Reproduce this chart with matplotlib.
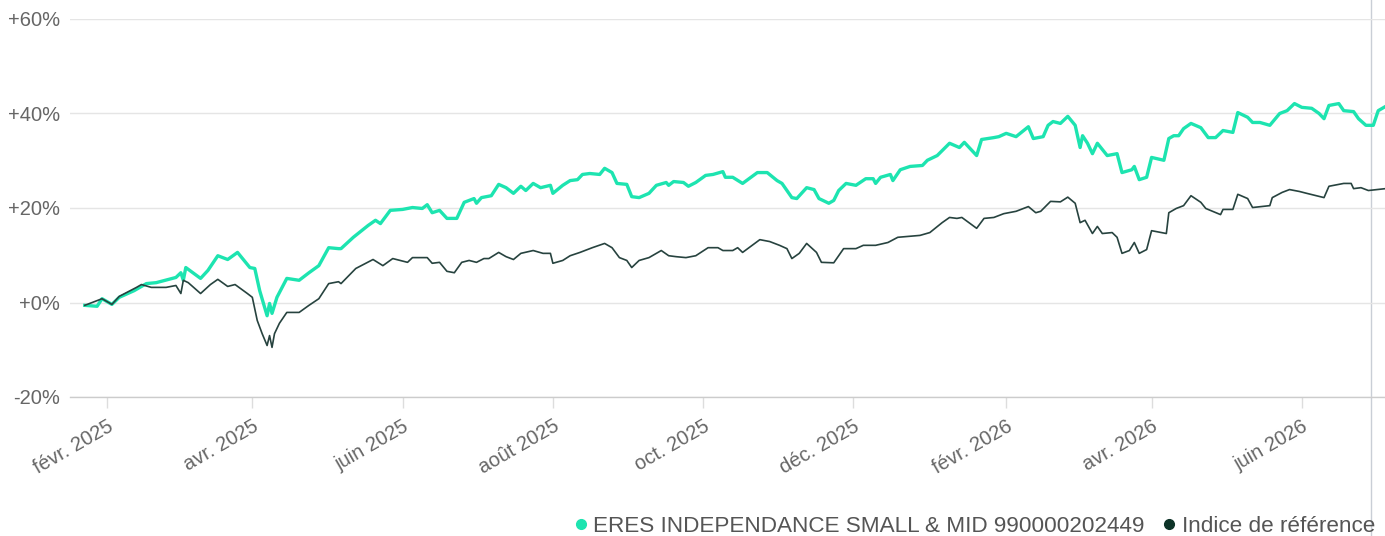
import matplotlib
matplotlib.use("Agg")
import matplotlib.pyplot as plt
import matplotlib.dates as mdates
from matplotlib.lines import Line2D
from matplotlib.transforms import blended_transform_factory
import pandas as pd

# ---------------- data ----------------
fund_dates = [
    "2025-01-23", "2025-01-28", "2025-01-30", "2025-02-03", "2025-02-06", "2025-02-12",
    "2025-02-17", "2025-02-21", "2025-02-26", "2025-03-01", "2025-03-03", "2025-03-04",
    "2025-03-05", "2025-03-11", "2025-03-14", "2025-03-18", "2025-03-22", "2025-03-26",
    "2025-03-31", "2025-04-02", "2025-04-04", "2025-04-07", "2025-04-08", "2025-04-09",
    "2025-04-11", "2025-04-15", "2025-04-20", "2025-04-24", "2025-04-28", "2025-05-02",
    "2025-05-06", "2025-05-07", "2025-05-12", "2025-05-18", "2025-05-21", "2025-05-23",
    "2025-05-27", "2025-06-01", "2025-06-05", "2025-06-09", "2025-06-11", "2025-06-13",
    "2025-06-16", "2025-06-19", "2025-06-23", "2025-06-26", "2025-06-30", "2025-07-01",
    "2025-07-03", "2025-07-07", "2025-07-10", "2025-07-13", "2025-07-16", "2025-07-19",
    "2025-07-21", "2025-07-24", "2025-07-27", "2025-07-31", "2025-08-01", "2025-08-05",
    "2025-08-08", "2025-08-11", "2025-08-13", "2025-08-16", "2025-08-20", "2025-08-22",
    "2025-08-25", "2025-08-27", "2025-08-31", "2025-09-02", "2025-09-05", "2025-09-09",
    "2025-09-12", "2025-09-16", "2025-09-17", "2025-09-19", "2025-09-23", "2025-09-25",
    "2025-09-28", "2025-10-02", "2025-10-05", "2025-10-09", "2025-10-10", "2025-10-13",
    "2025-10-17", "2025-10-23", "2025-10-27", "2025-10-31", "2025-11-02", "2025-11-06",
    "2025-11-08", "2025-11-12", "2025-11-15", "2025-11-17", "2025-11-21", "2025-11-23",
    "2025-11-25", "2025-11-28", "2025-12-02", "2025-12-06", "2025-12-09", "2025-12-10",
    "2025-12-12", "2025-12-16", "2025-12-17", "2025-12-20", "2025-12-24", "2025-12-29",
    "2025-12-31", "2026-01-04", "2026-01-09", "2026-01-13", "2026-01-15", "2026-01-20",
    "2026-01-22", "2026-01-27", "2026-01-29", "2026-02-01", "2026-02-05", "2026-02-10",
    "2026-02-12", "2026-02-16", "2026-02-18", "2026-02-20", "2026-02-23", "2026-02-26",
    "2026-03-01", "2026-03-03", "2026-03-04", "2026-03-06", "2026-03-08", "2026-03-10",
    "2026-03-14", "2026-03-18", "2026-03-20", "2026-03-24", "2026-03-25", "2026-03-27",
    "2026-03-30", "2026-04-01", "2026-04-06", "2026-04-08", "2026-04-10", "2026-04-12",
    "2026-04-14", "2026-04-17", "2026-04-21", "2026-04-24", "2026-04-27", "2026-04-30",
    "2026-05-04", "2026-05-06", "2026-05-10", "2026-05-12", "2026-05-15", "2026-05-19",
    "2026-05-23", "2026-05-26", "2026-05-29", "2026-06-01", "2026-06-05", "2026-06-08",
    "2026-06-10", "2026-06-12", "2026-06-16", "2026-06-18", "2026-06-22", "2026-06-24",
    "2026-06-27", "2026-06-30", "2026-07-02", "2026-07-05",
]
fund_values = [
    -0.6, -0.8, 0.8, -0.4, 1.1, 2.5,
    4.0, 4.2, 4.9, 5.3, 6.3, 4.7,
    7.4, 5.1, 6.8, 9.9, 9.1, 10.6,
    7.4, 7.2, 2.5, -2.8, -0.2, -2.3,
    1.1, 5.1, 4.7, 6.3, 7.8, 11.6,
    11.4, 11.4, 13.8, 16.3, 17.4, 16.7,
    19.5, 19.7, 20.1, 19.9, 20.7, 19.0,
    19.5, 17.8, 17.8, 21.2, 22.0, 21.0,
    22.2, 22.6, 25.0, 24.3, 23.1, 24.6,
    23.7, 25.2, 24.3, 24.8, 23.1, 24.8,
    25.8, 26.0, 27.1, 27.3, 27.1, 28.4,
    27.5, 25.2, 25.0, 22.4, 22.2, 23.1,
    24.8, 25.4, 24.8, 25.6, 25.4, 24.6,
    25.4, 26.9, 27.1, 27.7, 26.5, 26.5,
    25.2, 27.5, 27.5, 25.8, 25.2, 22.2,
    22.0, 24.3, 23.9, 22.0, 21.0, 21.6,
    23.7, 25.2, 24.8, 26.2, 26.2, 25.2,
    26.5, 27.1, 25.8, 28.1, 28.8, 29.0,
    30.1, 31.1, 33.7, 32.8, 33.9, 31.1,
    34.5, 34.9, 35.1, 35.8, 35.1, 37.2,
    34.7, 35.1, 37.5, 38.3, 37.9, 39.4,
    37.5, 32.8, 35.3, 33.7, 31.5, 33.7,
    31.1, 31.5, 27.5, 28.1, 28.8, 26.0,
    26.5, 30.7, 30.1, 34.7, 35.3, 35.3,
    36.8, 37.9, 37.0, 34.9, 34.9, 36.4,
    36.0, 40.2, 39.2, 38.1, 38.1, 37.5,
    40.0, 40.6, 42.1, 41.3, 41.1, 40.0,
    38.9, 41.7, 42.1, 40.6, 40.4, 38.9,
    37.5, 37.5, 40.6, 41.5,
]

index_dates = [
    "2025-01-23", "2025-01-30", "2025-02-03", "2025-02-06", "2025-02-13", "2025-02-15",
    "2025-02-19", "2025-02-25", "2025-03-01", "2025-03-03", "2025-03-04", "2025-03-06",
    "2025-03-11", "2025-03-15", "2025-03-18", "2025-03-22", "2025-03-25", "2025-03-30",
    "2025-04-01", "2025-04-03", "2025-04-05", "2025-04-07", "2025-04-08", "2025-04-09",
    "2025-04-10", "2025-04-12", "2025-04-15", "2025-04-20", "2025-04-24", "2025-04-28",
    "2025-05-02", "2025-05-06", "2025-05-07", "2025-05-13", "2025-05-20", "2025-05-24",
    "2025-05-28", "2025-06-03", "2025-06-05", "2025-06-11", "2025-06-13", "2025-06-16",
    "2025-06-19", "2025-06-22", "2025-06-25", "2025-06-28", "2025-07-01", "2025-07-04",
    "2025-07-06", "2025-07-10", "2025-07-13", "2025-07-16", "2025-07-19", "2025-07-24",
    "2025-07-28", "2025-07-31", "2025-08-01", "2025-08-05", "2025-08-08", "2025-08-12",
    "2025-08-17", "2025-08-22", "2025-08-25", "2025-08-28", "2025-08-31", "2025-09-02",
    "2025-09-05", "2025-09-09", "2025-09-14", "2025-09-17", "2025-09-20", "2025-09-24",
    "2025-09-28", "2025-10-03", "2025-10-07", "2025-10-09", "2025-10-13", "2025-10-15",
    "2025-10-17", "2025-10-24", "2025-10-28", "2025-11-01", "2025-11-04", "2025-11-06",
    "2025-11-09", "2025-11-12", "2025-11-16", "2025-11-18", "2025-11-23", "2025-11-27",
    "2025-12-02", "2025-12-05", "2025-12-10", "2025-12-15", "2025-12-19", "2025-12-28",
    "2026-01-01", "2026-01-06", "2026-01-09", "2026-01-12", "2026-01-14", "2026-01-20",
    "2026-01-23", "2026-01-27", "2026-01-31", "2026-02-05", "2026-02-10", "2026-02-13",
    "2026-02-15", "2026-02-19", "2026-02-23", "2026-02-26", "2026-03-01", "2026-03-03",
    "2026-03-05", "2026-03-08", "2026-03-10", "2026-03-12", "2026-03-16", "2026-03-18",
    "2026-03-20", "2026-03-23", "2026-03-25", "2026-03-27", "2026-03-30", "2026-04-01",
    "2026-04-07", "2026-04-08", "2026-04-11", "2026-04-14", "2026-04-17", "2026-04-21",
    "2026-04-23", "2026-04-29", "2026-04-30", "2026-05-04", "2026-05-06", "2026-05-10",
    "2026-05-12", "2026-05-19", "2026-05-20", "2026-05-24", "2026-05-27", "2026-05-31",
    "2026-06-03", "2026-06-10", "2026-06-12", "2026-06-18", "2026-06-21", "2026-06-22",
    "2026-06-25", "2026-06-28", "2026-07-05",
]
index_values = [
    -0.6, 0.8, -0.4, 1.3, 3.2, 3.8,
    3.2, 3.2, 3.6, 1.9, 4.7, 4.2,
    1.9, 3.8, 4.9, 3.4, 3.8, 1.9,
    1.1, -3.8, -6.6, -9.1, -7.0, -9.5,
    -6.6, -4.4, -2.1, -2.1, -0.6, 0.8,
    4.0, 4.4, 4.0, 7.2, 9.1, 7.8,
    9.3, 8.5, 9.5, 9.5, 8.3, 8.5,
    6.6, 6.3, 8.5, 8.9, 8.5, 9.3,
    9.3, 10.6, 9.7, 9.1, 10.4, 11.0,
    10.4, 10.4, 8.3, 8.9, 9.9, 10.6,
    11.6, 12.5, 11.6, 9.5, 8.9, 7.4,
    8.9, 9.5, 11.0, 9.9, 9.7, 9.5,
    9.9, 11.6, 11.6, 11.0, 11.0, 11.6,
    10.6, 13.3, 12.9, 12.1, 11.4, 9.3,
    10.4, 12.5, 10.6, 8.5, 8.4, 11.4,
    11.4, 12.1, 12.1, 12.7, 13.8, 14.2,
    14.8, 16.9, 18.0, 17.8, 18.0, 15.7,
    17.8, 18.0, 18.8, 19.3, 20.3, 19.0,
    19.3, 21.4, 21.3, 22.3, 21.0, 16.9,
    17.4, 14.6, 16.1, 14.6, 14.8, 13.8,
    10.4, 11.0, 12.7, 10.4, 11.2, 15.2,
    14.6, 19.0, 19.9, 20.5, 22.6, 21.2,
    19.9, 18.6, 19.7, 19.7, 22.9, 22.0,
    20.1, 20.5, 22.2, 23.3, 23.9, 23.5,
    23.1, 22.2, 24.6, 25.2, 25.2, 24.1,
    24.3, 23.7, 24.1,
]

y_ticks = [-20, 0, 20, 40, 60]
y_tick_labels = ["-20%", "+0%", "+20%", "+40%", "+60%"]
x_tick_dates = ["2025-02-01", "2025-04-01", "2025-06-01", "2025-08-01", "2025-10-01",
                "2025-12-01", "2026-02-01", "2026-04-01", "2026-06-01"]
x_tick_labels = ["févr. 2025", "avr. 2025", "juin 2025", "août 2025", "oct. 2025",
                 "déc. 2025", "févr. 2026", "avr. 2026", "juin 2026"]
fund_label = "ERES INDEPENDANCE SMALL & MID 990000202449"
index_label = "Indice de référence"
cursor_date = "2026-06-29"

# ---------------- styling ----------------
plt.rcParams["font.family"] = ["Liberation Sans", "DejaVu Sans"]
GREEN = "#1de4b0"
DARK = "#27433f"
TXT = "#666666"
GRID = "#e5e5e5"

W, H = 1385, 536
fig = plt.figure(figsize=(W / 100, H / 100), dpi=100)
ax = fig.add_axes([70 / W, 1 - 397 / H, (W - 70) / W, (397 - 19) / H])

fd = pd.to_datetime(fund_dates)
idd = pd.to_datetime(index_dates)

ax.plot(fd, fund_values, color=GREEN, lw=2.4, solid_joinstyle="round", zorder=3)
ax.plot(idd, index_values, color=DARK, lw=1.2, solid_joinstyle="round", zorder=4)

ax.set_ylim(-20, 60)
ax.set_xlim(pd.Timestamp("2025-01-17"), pd.Timestamp("2026-07-04 18:00"))

ax.set_yticks(y_ticks)
ax.set_yticklabels(y_tick_labels)
ax.set_xticks(pd.to_datetime(x_tick_dates))
ax.set_xticklabels(x_tick_labels, rotation=30, ha="right", rotation_mode="anchor")

for s in ["top", "right", "left"]:
    ax.spines[s].set_visible(False)
ax.spines["bottom"].set_color("#cccccc")
ax.spines["bottom"].set_linewidth(1.0)

ax.grid(axis="y", color=GRID, lw=1.0, zorder=0)
ax.tick_params(axis="y", length=0, pad=7, labelsize=14.5, labelcolor=TXT)
ax.tick_params(axis="x", length=8, width=1, color="#dddddd", pad=6,
               labelsize=14.5, labelcolor=TXT)

# hover cursor line spanning the figure height
tr = blended_transform_factory(ax.transData, fig.transFigure)
cx = mdates.date2num(pd.Timestamp(cursor_date))
ax.add_line(Line2D([cx, cx], [0, 1], transform=tr, color="#c9ced6", lw=1.0,
                   clip_on=False, zorder=1))

handles = [
    Line2D([], [], ls="", marker="o", ms=7, color=GREEN),
    Line2D([], [], ls="", marker="o", ms=7, color="#0d3328"),
]
fig.legend(handles, [fund_label, index_label], loc="lower right",
           bbox_to_anchor=(1384 / W, -0.019), ncol=2, frameon=False,
           fontsize=16.2, labelcolor="#555555", handletextpad=0.05,
           columnspacing=0.6, handlelength=1.0, borderaxespad=0.0)

fig.savefig("out.png", dpi=100, facecolor="white")
